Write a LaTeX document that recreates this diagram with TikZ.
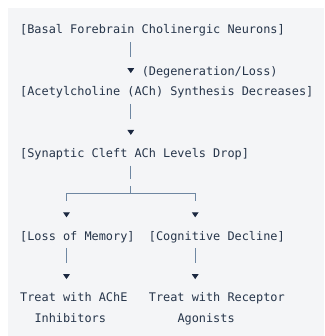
\documentclass[tikz,border=0pt]{standalone}
\usepackage{fontspec}
\usetikzlibrary{arrows.meta}
\newfontfamily\codefont{DejaVu Sans Mono}
\definecolor{panel}{HTML}{F4F5F7}
\definecolor{ink}{HTML}{26354A}
\definecolor{stem}{HTML}{6E87A2}
\definecolor{tipcol}{HTML}{1B2840}

\begin{document}
\begin{tikzpicture}[
    lbl/.style={
        font=\codefont\fontsize{11.875pt}{14pt}\selectfont,
        text=ink,
        inner sep=0pt,
        anchor=base west,
        text height=9pt,
        text depth=3pt
    },
    link/.style={
        draw=stem, line width=1pt,
        shorten <=5pt, shorten >=13.5pt,
        dash pattern=on 15pt off 100pt,
        -{Triangle[length=5pt,width=6.6pt,color=tipcol]}
    },
    fork/.style={link, dash pattern=on 13pt off 7.4pt on 79.3pt off 100pt}
]
\useasboundingbox (0,0) rectangle (324pt,-336pt);
\fill[panel] (8pt,-8pt) rectangle (324pt,-336pt);

\node[lbl] (basal) at (20pt,-34pt) {[Basal Forebrain Cholinergic Neurons]};
\node[lbl] (degen) at (141.55pt,-75.2pt) {(Degeneration/Loss)};
\node[lbl] (acetyl) at (20pt,-95.8pt) {[Acetylcholine (ACh) Synthesis Decreases]};
\node[lbl] (synaptic) at (20pt,-157.6pt) {[Synaptic Cleft ACh Levels Drop]};
\node[lbl] (loss) at (20pt,-240pt) {[Loss of Memory]};
\node[lbl] (cognitive) at (148.7pt,-240pt) {[Cognitive Decline]};
\node[lbl] (treatA) at (20pt,-301.8pt) {Treat with AChE};
\node[lbl] (treatAnext) at (34.3pt,-322.4pt) {Inhibitors};
\node[lbl] (treatB) at (148.7pt,-301.8pt) {Treat with Receptor};
\node[lbl] (treatBnext) at (177.3pt,-322.4pt) {Agonists};

% column of the stems and the fork
\coordinate (mid) at (130.8pt,-193pt);
\coordinate (lcol) at (66.5pt,0);
\coordinate (rcol) at (195.2pt,0);

\draw[link] (basal.south -| mid) -- (acetyl.north -| mid);
\draw[link] (acetyl.south -| mid) -- (synaptic.north -| mid);
\draw[fork] (synaptic.south -| mid) -- (mid) -| (loss.north -| lcol);
\draw[fork] (synaptic.south -| mid) -- (mid) -| (cognitive.north -| rcol);
\draw[link] (loss.south -| lcol) -- (treatA.north -| lcol);
\draw[link] (cognitive.south -| rcol) -- (treatB.north -| rcol);
\end{tikzpicture}
\end{document}
